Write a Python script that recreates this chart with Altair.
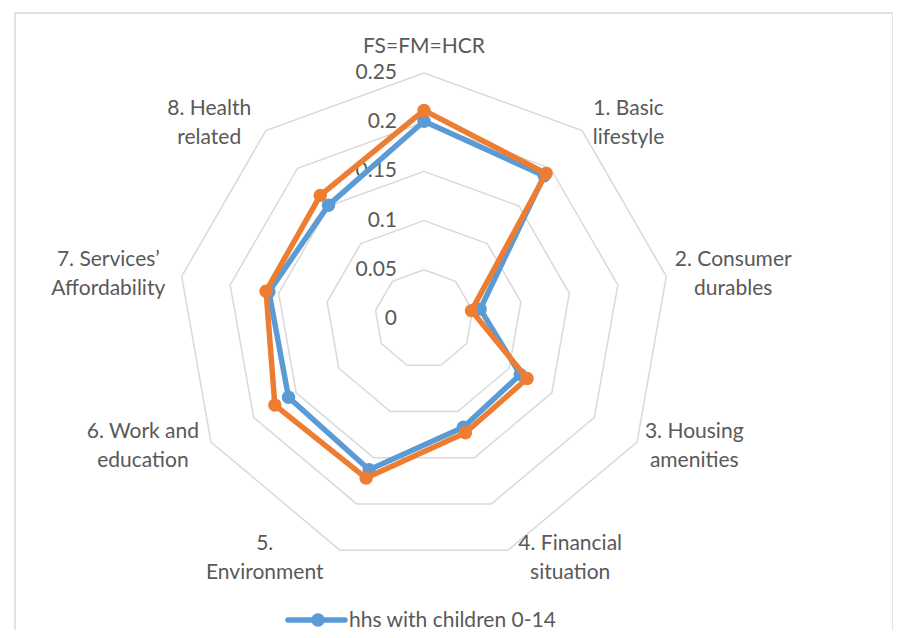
import altair as alt
import numpy as np
import pandas as pd

# ---------------- data ----------------
categories = ["FS=FM=HCR", "1. Basic|lifestyle", "2. Consumer|durables",
              "3. Housing|amenities", "4. Financial|situation", "5.|Environment",
              "6. Work and|education", "7. Services’|Affordability", "8. Health|related"]
series_names = ["hhs with children 0-14", "hhs without children 0-14"]
with_children = [0.201, 0.190, 0.058, 0.113, 0.117, 0.163, 0.159, 0.160, 0.151]
without_children = [0.212, 0.193, 0.049, 0.121, 0.123, 0.172, 0.175, 0.163, 0.164]
ring_values = [0.05, 0.10, 0.15, 0.20, 0.25]
tick_values = [0, 0.05, 0.1, 0.15, 0.2, 0.25]
tick_labels = ["0", "0.05", "0.1", "0.15", "0.2", "0.25"]
axis_max = 0.25

# ---------------- layout ----------------
W, H = 878, 617          # plot area (px)
CX, CY = 409, 306        # radar centre inside plot area (px)
PX = 984.0               # px per data unit (radius 0.25 -> 246 px)
FONT = "Lato"
FS = 21
LH = 29
TXT = "#595959"
GRID = "#d9d9d9"
BLUE = "#5B9BD5"
ORANGE = "#ED7D31"
N = len(categories)
LW = 5.5
MS = 180

xs = alt.Scale(domain=[-CX / PX, (W - CX) / PX], nice=False, zero=False)
ys = alt.Scale(domain=[-(H - CY) / PX, CY / PX], nice=False, zero=False)


def polar(ch):
    return ch.transform_calculate(
        ang=f"datum.idx * 2 * PI / {N}",
        px="datum.value * sin(datum.ang)",
        py="datum.value * cos(datum.ang)",
    )


# rings
ring_rows = [{"ring": r, "k": k, "idx": k % N, "value": r}
             for r in ring_values for k in range(N + 1)]
rings = polar(alt.Chart(pd.DataFrame(ring_rows))).mark_line(
    color=GRID, strokeWidth=1.5
).encode(
    x=alt.X("px:Q", scale=xs, axis=None),
    y=alt.Y("py:Q", scale=ys, axis=None),
    detail="ring:N",
    order="k:Q",
)


def series_layers(name, vals, color):
    rows = [{"series": name, "k": k, "idx": k % N, "value": vals[k % N]}
            for k in range(N + 1)]
    base = polar(alt.Chart(pd.DataFrame(rows)))
    line = base.mark_line(color=color, strokeWidth=LW, strokeJoin="round").encode(
        x=alt.X("px:Q", scale=xs, axis=None),
        y=alt.Y("py:Q", scale=ys, axis=None),
        order="k:Q",
    )
    pts = base.transform_filter(f"datum.k < {N}").mark_circle(
        color=color, opacity=1, size=MS
    ).encode(
        x=alt.X("px:Q", scale=xs, axis=None),
        y=alt.Y("py:Q", scale=ys, axis=None),
    )
    return [line, pts]


# tick labels
ticks = alt.Chart(pd.DataFrame({"value": tick_values, "label": tick_labels})).transform_calculate(
    zero="0"
).mark_text(align="right", baseline="middle", dx=-27, font=FONT, fontSize=FS, color=TXT).encode(
    x=alt.X("zero:Q", scale=xs, axis=None),
    y=alt.Y("value:Q", scale=ys, axis=None),
    text="label:N",
)


# category labels: placed beside the end of each axis (heuristic text width)
def char_w(c):
    if c in "ilj":
        return 0.23
    if c in "ftr":
        return 0.36
    if c in ". ,’'":
        return 0.24
    if c in "mw":
        return 0.80
    if c.isupper():
        return 0.64
    return 0.54


lab_rows = []
for i, lab in enumerate(categories):
    lines = lab.split("|")
    n = len(lines)
    hw = max(sum(char_w(c) for c in ln) for ln in lines) * FS / 2
    hh = n * LH / 2
    th = i * 2 * np.pi / N
    ex, ey = axis_max * np.sin(th), axis_max * np.cos(th)
    if i == 0:
        cx, cy = ex, ey + (12 + hh) / PX
    else:
        side = np.sign(np.sin(th))
        gap = 9 if side > 0 else 16
        cx = ex + side * (gap + hw) / PX
        cy = ey + 9 * np.cos(th) / PX
    # anchor of first line (text block is drawn downward from it)
    cy += (n - 1) * LH / 2 / PX
    lab_rows.append({"label": lab, "cx": cx, "cy": cy})

cat_labels = alt.Chart(pd.DataFrame(lab_rows)).transform_calculate(
    lines="split(datum.label, '|')"
).mark_text(align="center", baseline="middle", font=FONT, fontSize=FS,
            lineHeight=LH, color=TXT).encode(
    x=alt.X("cx:Q", scale=xs, axis=None),
    y=alt.Y("cy:Q", scale=ys, axis=None),
    text="lines:N",
)

# legend (only first entry is visible in the reference)
leg_df = pd.DataFrame({"series": [series_names[0]]})
leg_base = alt.Chart(leg_df)
leg_line = leg_base.mark_rule(color=BLUE, strokeWidth=LW, strokeCap="round").encode(
    x=alt.value(273), x2=alt.value(330), y=alt.value(607))
leg_pt = leg_base.mark_circle(color=BLUE, opacity=1, size=MS).encode(
    x=alt.value(303), y=alt.value(607))
leg_txt = leg_base.mark_text(align="left", baseline="alphabetic", font=FONT,
                             fontSize=FS, color=TXT).encode(
    x=alt.value(334), y=alt.value(614), text="series:N")

# chart border (top, left, right)
bdf = pd.DataFrame({"b": [0]})
b_top = alt.Chart(bdf).mark_rule(color=GRID, strokeWidth=1.5).encode(
    x=alt.value(0), x2=alt.value(W), y=alt.value(0))
b_left = alt.Chart(bdf).mark_rule(color=GRID, strokeWidth=1.5).encode(
    x=alt.value(0), y=alt.value(0), y2=alt.value(H))
b_right = alt.Chart(bdf).mark_rule(color=GRID, strokeWidth=1.5).encode(
    x=alt.value(W), y=alt.value(0), y2=alt.value(H))

layers = [b_top, b_left, b_right, rings, ticks, cat_labels]
layers += series_layers(series_names[0], with_children, BLUE)
layers += series_layers(series_names[1], without_children, ORANGE)
layers += [leg_line, leg_pt, leg_txt]

chart = alt.layer(*layers).properties(
    width=W, height=H,
    autosize=alt.AutoSizeParams(type="none"),
    padding={"left": 7, "top": 5, "right": 0, "bottom": 0},
).configure_view(stroke=None)

chart.save("out.html", embed_options={"renderer": "svg", "actions": False})
